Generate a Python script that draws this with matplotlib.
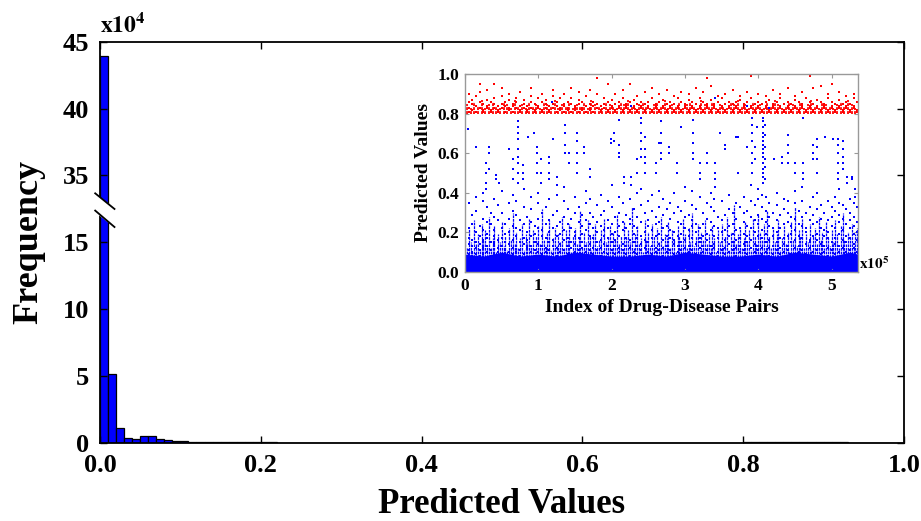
import numpy as np
import matplotlib
matplotlib.use("Agg")
import matplotlib.pyplot as plt

plt.rcParams["font.family"] = ["Liberation Serif", "DejaVu Serif"]
plt.rcParams["font.weight"] = "bold"
plt.rcParams["mathtext.fontset"] = "stix"

# - - - - - - - - data - - - - - - - - #
# histogram of predicted values, bin width 0.01, counts in units of 1e4
hist_counts = [43.9, 5.15, 1.12, 0.40, 0.30, 0.50, 0.48, 0.30, 0.20, 0.15,
               0.12, 0.10, 0.08, 0.07, 0.06, 0.05, 0.05, 0.04, 0.04, 0.03,
               0.03, 0.03, 0.02, 0.02, 0.02, 0.02, 0.02, 0.02, 0.02, 0.02,
               0.01, 0.01, 0.01, 0.01, 0.01, 0.01, 0.01, 0.01, 0.01, 0.01,
               0.01, 0.01, 0.01, 0.01, 0.01, 0.01, 0.01, 0.01, 0.01, 0.01,
               0.01, 0.01, 0.01, 0.01, 0.01, 0.01, 0.01, 0.01, 0.01, 0.01,
               0.01, 0.01, 0.01, 0.01, 0.01, 0.01, 0.01, 0.01, 0.01, 0.01,
               0.01, 0.01, 0.01, 0.01, 0.01, 0.01, 0.01, 0.01, 0.01, 0.01,
               0.06, 0.08, 0.08, 0.07, 0.07, 0.06, 0.06, 0.05, 0.05, 0.04,
               0.04, 0.03, 0.03, 0.02, 0.02, 0.01, 0.00, 0.00, 0.00, 0.00]
bin_width = 0.01

main_xticks = [0.0, 0.2, 0.4, 0.6, 0.8, 1.0]
main_yticks = [0, 5, 10, 15, 35, 40, 45]

# inset: index of pair (x1e5) -> predicted value
# solid blue mass near zero
band_x = [0.0, 0.25, 0.5, 0.75, 1.0, 1.25, 1.5, 1.75, 2.0, 2.25, 2.5, 2.75,
          3.0, 3.25, 3.5, 3.75, 4.0, 4.25, 4.5, 4.75, 5.0, 5.25, 5.36]
band_top = [0.09, 0.08, 0.10, 0.08, 0.09, 0.08, 0.10, 0.09, 0.08, 0.08, 0.09, 0.08,
            0.10, 0.09, 0.08, 0.08, 0.09, 0.08, 0.10, 0.09, 0.08, 0.10, 0.09]

# dense streaks of blue dots, one every 0.025 (x1e5), top of each streak
stem_step = 0.025
stem_top = [.18, .12, .22, .15, .10, .26, .14, .19, .11, .24,
            .16, .21, .13, .28, .12, .17, .23, .10, .19, .15,
            .25, .13, .18, .11, .22, .16, .30, .14, .20, .12,
            .17, .24, .11, .19, .15, .27, .13, .21, .10, .18,
            .23, .14, .32, .16, .12, .20, .26, .11, .17, .22,
            .13, .19, .15, .28, .12, .21, .16, .24, .10, .18,
            .22, .14, .17, .31, .12, .20, .15, .26, .18, .11,
            .19, .24, .13, .16, .21, .10, .27, .15, .18, .23,
            .12, .20, .16, .29, .14, .18, .11, .25, .17, .21,
            .15, .33, .12, .19, .23, .14, .17, .10, .26, .16,
            .20, .13, .24, .18, .11, .22, .15, .28, .13, .19,
            .17, .25, .12, .21, .16, .10, .23, .18, .14, .27,
            .19, .12, .22, .15, .30, .13, .18, .24, .11, .20,
            .16, .26, .14, .19, .12, .23, .17, .10, .21, .15,
            .24, .13, .18, .28, .11, .20, .16, .34, .14, .19,
            .22, .12, .17, .25, .15, .21, .11, .27, .18, .14,
            .29, .20, .16, .24, .13, .31, .18, .12, .22, .15,
            .19, .26, .11, .17, .23, .14, .20, .10, .25, .16,
            .33, .13, .21, .18, .27, .12, .19, .15, .24, .11,
            .18, .22, .14, .28, .16, .20, .12, .25, .17, .13,
            .21, .15, .26, .19, .12, .23, .30, .16, .14, .20,
            .17, .24, .13, .19, .22]

blue_low = [
    "0.00: .19 .15 .12 .10 .08 .27 .33", "0.05: .22 .14 .11 .09 .17 .35",
    "0.10: .16 .13 .10 .08 .24 .29", "0.15: .20 .12 .09 .15 .31 .38",
    "0.20: .18 .14 .11 .08 .23", "0.25: .21 .16 .12 .09 .27 .36 .40",
    "0.30: .17 .13 .10 .19 .25 .33", "0.35: .24 .15 .11 .08 .30",
    "0.40: .18 .14 .09 .21 .28 .37", "0.45: .16 .12 .10 .26 .34",
    "0.50: .22 .17 .13 .09 .30 .41", "0.55: .19 .15 .11 .08 .24",
    "0.60: .20 .14 .10 .27 .35", "0.65: .23 .16 .12 .09 .31 .39",
    "0.70: .18 .13 .10 .22 .29 .36", "0.75: .21 .15 .11 .08 .26",
    "0.80: .17 .14 .09 .24 .33 .42", "0.85: .20 .16 .12 .28",
    "0.90: .25 .18 .13 .10 .32 .38", "0.95: .19 .15 .11 .08 .23",
    "1.00: .22 .14 .10 .27 .35 .40", "1.05: .18 .13 .09 .21 .30",
    "1.10: .24 .17 .12 .10 .33", "1.15: .20 .15 .11 .26 .37",
    "1.20: .16 .13 .09 .22 .29", "1.25: .23 .18 .12 .08 .31 .39",
    "1.30: .19 .14 .10 .25", "1.35: .21 .16 .11 .28 .36 .43",
    "1.40: .17 .13 .09 .24 .32", "1.45: .22 .15 .12 .08 .27",
    "1.50: .18 .14 .10 .20 .30 .38", "1.55: .25 .17 .11 .33",
    "1.60: .19 .15 .12 .09 .23 .29", "1.65: .21 .13 .10 .26 .35 .41",
    "1.70: .24 .18 .14 .11 .30 .37", "1.75: .17 .12 .09 .22 .28",
    "1.80: .20 .15 .11 .25 .34", "1.85: .23 .16 .12 .08 .29 .39",
    "1.90: .18 .14 .10 .21 .31", "1.95: .22 .17 .13 .09 .26 .36",
    "2.00: .19 .15 .11 .24 .33 .44", "2.05: .16 .13 .09 .20 .28",
    "2.10: .23 .18 .12 .10 .30 .38", "2.15: .21 .14 .11 .25 .35",
    "2.20: .17 .13 .09 .22 .29", "2.25: .24 .16 .12 .08 .27 .37",
    "2.30: .19 .15 .10 .23 .32", "2.35: .22 .17 .13 .09 .28 .40",
    "2.40: .18 .14 .11 .25 .34 .42", "2.45: .20 .16 .12 .08 .30",
    "2.50: .23 .15 .10 .26 .36", "2.55: .17 .13 .09 .21 .31 .39",
    "2.60: .24 .18 .12 .10 .28", "2.65: .19 .14 .11 .25 .33 .41",
    "2.70: .22 .16 .12 .08 .29 .37", "2.75: .18 .13 .10 .23 .32",
    "2.80: .21 .17 .11 .27 .35", "2.85: .16 .14 .09 .20 .30 .40",
    "2.90: .25 .18 .13 .10 .33", "2.95: .19 .15 .11 .24 .31",
    "3.00: .22 .16 .12 .08 .28 .36 .43", "3.05: .18 .13 .10 .21 .29",
    "3.10: .23 .17 .11 .26 .34 .41", "3.15: .20 .14 .09 .24 .32",
    "3.20: .17 .15 .12 .08 .22 .38", "3.25: .24 .18 .13 .10 .30",
    "3.30: .19 .16 .11 .27 .35", "3.35: .21 .13 .09 .25 .33 .40",
    "3.40: .18 .14 .12 .23 .31 .37", "3.45: .22 .17 .10 .08 .28",
    "3.50: .20 .15 .11 .26 .36", "3.55: .16 .12 .09 .21 .29",
    "3.60: .23 .18 .14 .10 .32 .39", "3.65: .19 .15 .11 .24 .30",
    "3.70: .21 .16 .12 .08 .27 .35", "3.75: .17 .13 .10 .22 .33",
    "3.80: .25 .19 .14 .11 .30 .38", "3.85: .18 .15 .09 .23 .31",
    "3.90: .22 .16 .12 .28 .36 .44", "3.95: .20 .14 .10 .08 .26 .34",
    "4.00: .24 .18 .13 .11 .29 .37 .42", "4.05: .21 .17 .12 .09 .27 .33 .39",
    "4.10: .19 .15 .10 .25 .31 .38", "4.15: .23 .16 .12 .08 .28 .35",
    "4.20: .18 .13 .09 .22 .30", "4.25: .20 .15 .11 .26 .34 .40",
    "4.30: .22 .17 .12 .09 .29", "4.35: .17 .14 .10 .24 .32 .37",
    "4.40: .25 .18 .13 .11 .30 .36", "4.45: .19 .15 .09 .23 .28",
    "4.50: .21 .16 .12 .08 .27 .35 .41", "4.55: .18 .13 .10 .24 .31",
    "4.60: .23 .17 .11 .28 .36 .43", "4.65: .20 .14 .09 .22 .30",
    "4.70: .16 .15 .12 .08 .26 .33", "4.75: .24 .18 .13 .10 .29 .38",
    "4.80: .19 .16 .11 .25 .32 .40", "4.85: .22 .14 .09 .27 .34",
    "4.90: .18 .13 .10 .21 .30", "4.95: .20 .17 .12 .08 .26 .36",
    "5.00: .23 .15 .11 .28 .33", "5.05: .17 .14 .09 .22 .31 .38",
    "5.10: .25 .19 .13 .10 .29 .35 .42", "5.15: .21 .16 .12 .27 .34",
    "5.20: .18 .15 .10 .08 .24 .32", "5.25: .22 .17 .11 .26 .30 .37",
    "5.30: .19 .14 .12 .23 .28 .35", "5.35: .20 .16 .10 .25 .33",
]

blue_high = [
    "0.00: .73 .65 .60 .55 .47 .44 .41", "0.045: .72", "0.15: .63",
    "0.29: .55 .50 .45 .42", "0.33: .63 .60 .52", "0.42: .49 .47", "0.47: .45",
    "0.60: .62", "0.65: .57 .52 .47", "0.72: .76 .73 .70 .67 .62 .58 .55 .50 .45",
    "0.79: .54 .50 .47", "0.86: .68", "0.94: .70", "0.98: .63 .60 .55 .50",
    "1.04: .57 .50 .45", "1.14: .58 .55 .50 .47", "1.18: .86", "1.20: .67",
    "1.26: .48 .44", "1.37: .74 .70 .64 .60", "1.42: .60 .55",
    "1.53: .70 .66 .60 .55 .50", "1.62: .63 .60", "1.71: .52 .48",
    "1.99: .67 .65", "2.03: .70 .66", "2.10: .77 .64 .60 .58", "2.17: .48 .45",
    "2.26: .48 .44 .84", "2.34: .57 .50", "2.40: .78 .75 .70 .66 .62 .58",
    "2.46: .68 .62 .58 .55 .50", "2.60: .55 .50", "2.65: .65",
    "2.67: .76 .70 .65 .60 .57", "2.78: .63 .60", "2.89: .55 .50", "2.94: .73",
    "3.11: .77 .70 .65 .60 .57", "3.21: .55 .50 .47", "3.30: .60 .55",
    "3.41: .55 .50 .47 .43 .88", "3.48: .70", "3.55: .64 .62", "3.69: .68",
    "3.73: .68 .50", "3.85: .63 .84", "3.91: .78 .74 .70 .66 .60 .55 .50",
    "3.96: .63 .57", "3.98: .73",
    "4.07: .78 .76 .73 .70 .68 .66 .64 .62 .60 .58 .55 .52 .50 .48 .45",
    "4.09: .74 .69 .63 .57 .53 .47", "4.14: .83", "4.21: .57", "4.32: .58 .55",
    "4.40: .69 .64 .60 .55", "4.50: .55 .50", "4.61: .55 .50 .47 .78",
    "4.75: .64 .60 .57", "4.80: .67 .63 .57 .50", "4.91: .68", "5.02: .67",
    "5.09: .67 .64 .60 .55 .50 .47", "5.15: .66 .62 .58 .55 .52",
    "5.21: .48 .45", "5.28: .48 .47", "5.32: .42 .38",
]

red_pts = [
    "0.00: .84 .82 .88", "0.05: .83 .86 .81 .90", "0.10: .82 .85 .87",
    "0.15: .81 .84 .89", "0.20: .83 .86 .95 .91", "0.25: .82 .85 .81",
    "0.30: .84 .87 .83 .92", "0.35: .81 .86 .82", "0.40: .83 .85 .88 .95",
    "0.45: .82 .84 .81", "0.50: .85 .83 .89 .93", "0.55: .81 .84 .86",
    "0.60: .82 .87 .83 .90", "0.65: .84 .81 .85", "0.70: .83 .86 .88",
    "0.75: .82 .84 .81 .91", "0.80: .85 .83 .87", "0.85: .81 .84 .82",
    "0.90: .83 .86 .93 .89", "0.95: .82 .85 .81", "1.00: .84 .83 .88",
    "1.05: .81 .86 .82 .90", "1.10: .83 .85 .87", "1.15: .82 .84 .81",
    "1.20: .85 .83 .92 .89", "1.25: .81 .84 .86", "1.30: .82 .83 .88",
    "1.35: .84 .81 .85 .90", "1.40: .83 .86 .82", "1.45: .81 .85 .88 .93",
    "1.50: .82 .84 .83", "1.55: .85 .81 .87 .91", "1.60: .83 .86 .82",
    "1.65: .81 .84 .89", "1.70: .82 .85 .83 .92", "1.75: .84 .81 .86",
    "1.80: .83 .85 .98 .90", "1.85: .82 .84 .81", "1.90: .85 .83 .88",
    "1.95: .81 .86 .82 .95", "2.00: .83 .84 .87", "2.05: .82 .85 .81 .90",
    "2.10: .84 .83 .86", "2.15: .81 .82 .88 .92", "2.20: .85 .83 .84",
    "2.25: .82 .86 .81 .95", "2.30: .83 .84 .87", "2.35: .81 .85 .82 .89",
    "2.40: .84 .83 .86", "2.45: .82 .81 .85 .91", "2.50: .83 .86 .84",
    "2.55: .81 .82 .88 .93", "2.60: .85 .83 .84", "2.65: .82 .86 .81 .90",
    "2.70: .84 .83 .87", "2.75: .81 .85 .82 .92", "2.80: .83 .84 .86",
    "2.85: .82 .81 .85 .89", "2.90: .84 .83 .88", "2.95: .81 .86 .82 .91",
    "3.00: .83 .85 .84", "3.05: .82 .81 .87 .90", "3.10: .84 .83 .86",
    "3.15: .81 .85 .82 .93", "3.20: .83 .84 .88", "3.25: .82 .86 .81 .91",
    "3.30: .84 .83 .85 .98", "3.35: .81 .82 .87 .94", "3.40: .85 .83 .84",
    "3.45: .82 .86 .81 .89", "3.50: .83 .84 .88", "3.55: .81 .85 .82 .90",
    "3.60: .84 .83 .86", "3.65: .82 .81 .85 .92", "3.70: .83 .86 .84",
    "3.75: .81 .82 .87 .89", "3.80: .84 .83 .85", "3.85: .82 .86 .81 .91",
    "3.90: .83 .84 .88 .99", "3.95: .81 .85 .82", "4.00: .84 .83 .86 .90",
    "4.05: .82 .81 .85", "4.10: .83 .86 .84 .89", "4.15: .81 .82 .87",
    "4.20: .85 .83 .84 .92", "4.25: .82 .86 .81", "4.30: .84 .83 .88 .90",
    "4.35: .81 .85 .82", "4.40: .83 .84 .86 .93", "4.45: .82 .81 .85",
    "4.50: .84 .83 .87 .89", "4.55: .81 .86 .82", "4.60: .83 .85 .84 .91",
    "4.65: .82 .81 .88", "4.70: .84 .83 .86 .99", "4.75: .81 .85 .82 .93",
    "4.80: .83 .84 .87", "4.85: .82 .86 .81 .94", "4.90: .84 .83 .85",
    "4.95: .81 .82 .88 .90", "5.00: .83 .86 .84 .95", "5.05: .82 .81 .85",
    "5.10: .84 .83 .87 .91", "5.15: .81 .85 .82", "5.20: .83 .84 .86 .89",
    "5.25: .82 .81 .85", "5.30: .84 .83 .88 .90", "5.35: .82 .86 .81",
]

# dense red streaks above 0.8, one every 0.05 starting at 0.025
red_step = 0.05
red_top = [.85, .83, .86, .84, .87, .83, .85, .86, .84, .83,
           .86, .85, .83, .87, .84, .85, .83, .86, .84, .85,
           .83, .86, .85, .84, .87, .83, .85, .84, .86, .83,
           .85, .84, .86, .83, .87, .85, .84, .83, .86, .85,
           .84, .83, .86, .85, .87, .84, .83, .85, .86, .84,
           .83, .85, .86, .84, .87, .83, .85, .84, .86, .83,
           .85, .86, .84, .83, .87, .85, .84, .86, .83, .85,
           .84, .83, .86, .85, .87, .84, .85, .83, .86, .84,
           .85, .83, .86, .84, .87, .85, .83, .84, .86, .85,
           .84, .86, .83, .85, .87, .84, .83, .86, .85, .84,
           .83, .85, .86, .84, .87, .85, .83]

inset_xticks = [0, 1, 2, 3, 4, 5]
inset_yticks = [0.0, 0.2, 0.4, 0.6, 0.8, 1.0]


def parse(rows):
    xs, ys = [], []
    for row in rows:
        x, vals = row.split(":")
        for v in vals.split():
            xs.append(float(x))
            ys.append(float(v))
    return np.array(xs), np.array(ys)


# broken y axis: 17.5 .. 32.5 is squeezed out
def fwd(y):
    y = np.asarray(y, dtype=float)
    return np.where(y <= 17.5, y, np.where(y >= 32.5, y - 15, 17.5))


def inv(y):
    y = np.asarray(y, dtype=float)
    return np.where(y <= 17.5, y, y + 15)


# - - - - - - - - main histogram - - - - - - - - #
fig = plt.figure(figsize=(9.21, 5.21), dpi=100)
ax = fig.add_axes([0.1086, 0.150, 0.8729, 0.770])

left = np.arange(len(hist_counts)) * bin_width
ax.bar(left, hist_counts, width=bin_width, align="edge",
       color="#0000ff", edgecolor="black", linewidth=0.9)

ax.set_yscale("function", functions=(fwd, inv))
ax.set_xlim(0, 1.0)
ax.set_ylim(0, 45)
ax.set_xticks(main_xticks)
ax.set_xticklabels(["%.1f" % t for t in main_xticks])
ax.set_yticks(main_yticks)
ax.set_yticklabels([str(t) for t in main_yticks])
ax.minorticks_off()
ax.tick_params(direction="in", top=True, right=True, length=5, width=1,
               labelsize=19, pad=8)
for s in ax.spines.values():
    s.set_linewidth(1.3)

ax.set_xlabel("Predicted Values", fontsize=25, fontweight="bold", labelpad=8)
ax.set_ylabel("Frequency", fontsize=26, fontweight="bold", labelpad=12)
ax.text(0.0, 1.012, r"$\mathbf{x10^{4}}$", transform=ax.transAxes,
        fontsize=17, ha="left", va="bottom")

# break mark on the left spine
brk = dict(transform=ax.transAxes, clip_on=False, zorder=5)
ax.fill([-0.006, 0.018, 0.018, -0.006], [0.620, 0.583, 0.539, 0.577],
        color="white", **brk)
ax.plot([-0.006, 0.018], [0.622, 0.583], color="black", lw=1.3, **brk)
ax.plot([-0.006, 0.018], [0.579, 0.538], color="black", lw=1.3, **brk)

# - - - - - - - - inset scatter - - - - - - - - #
ins = fig.add_axes([0.5049, 0.478, 0.4267, 0.380])
ins.fill_between(band_x, 0, band_top, color="#0000ff", lw=0)

sx = np.arange(len(stem_top)) * stem_step
ins.vlines(sx, 0, stem_top, color="#0000ff", lw=0.9, linestyles=(0, (2.2, 0.7)))
rsx = red_step / 2 + np.arange(len(red_top)) * red_step
ins.vlines(rsx, 0.80, red_top, color="#ff0000", lw=1.3, linestyles=(0, (1.6, 0.6)))

bx, by = parse(blue_low)
hx, hy = parse(blue_high)
rx, ry = parse(red_pts)
ins.plot(bx, by, "s", color="#0000ff", ms=1.6, mew=0)
ins.plot(hx, hy, "s", color="#0000ff", ms=1.6, mew=0)
ins.plot(rx, ry, "s", color="#ff0000", ms=1.7, mew=0)

ins.set_xlim(0, 5.36)
ins.set_ylim(0, 1.0)
ins.set_xticks(inset_xticks)
ins.set_xticklabels([str(t) for t in inset_xticks])
ins.set_yticks(inset_yticks)
ins.set_yticklabels(["%.1f" % t for t in inset_yticks])
ins.tick_params(direction="in", top=True, right=True, length=3, width=0.8,
                color="#999999", labelsize=12.5, pad=4)
for s in ins.spines.values():
    s.set_color("#999999")
    s.set_linewidth(1.0)
ins.set_xlabel("Index of Drug-Disease Pairs", fontsize=14, fontweight="bold",
               labelpad=4)
ins.set_ylabel("Predicted Values", fontsize=14, fontweight="bold", labelpad=4)
ins.text(1.003, 0.0, r"$\mathbf{x10^{5}}$", transform=ins.transAxes,
         fontsize=11, ha="left", va="bottom")

fig.savefig("out.png", dpi=100)
